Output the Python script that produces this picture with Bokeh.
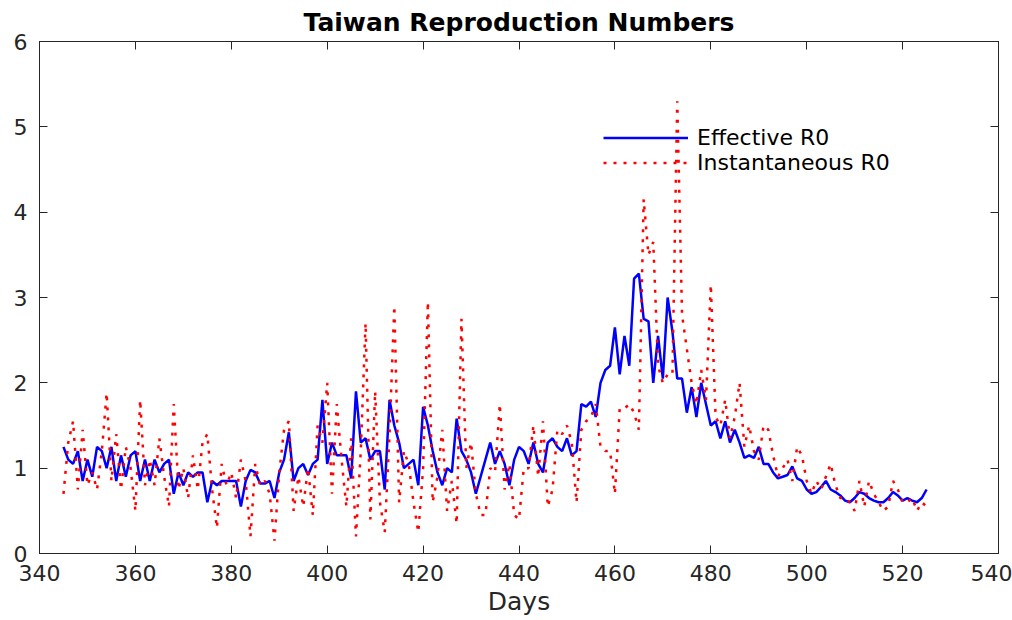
from bokeh.plotting import figure
from bokeh.models import LinearAxis, Range1d, Legend, LegendItem, FixedTicker, CustomJSTickFormatter
from bokeh.embed import file_html
from bokeh.resources import INLINE

days = list(range(345, 526))

effective_r0 = [
    1.25, 1.1, 1.05, 1.2, 0.85, 1.1, 0.9, 1.25, 1.2, 1.0,
    1.25, 0.85, 1.15, 0.9, 1.15, 1.2, 0.85, 1.1, 0.85, 1.1,
    0.95, 1.05, 1.1, 0.7, 0.95, 0.8, 0.95, 0.9, 0.95, 0.95,
    0.6, 0.85, 0.8, 0.85, 0.85, 0.85, 0.85, 0.55, 0.85, 0.98,
    0.95, 0.82, 0.82, 0.85, 0.65, 0.95, 1.1, 1.42, 0.85, 1.0,
    1.05, 0.92, 1.05, 1.1, 1.8, 1.05, 1.3, 1.15, 1.15, 1.15,
    0.88, 1.9, 1.3, 1.35, 1.1, 1.2, 1.2, 0.75, 1.8, 1.5,
    1.3, 1.0, 1.05, 1.1, 0.8, 1.72, 1.5, 1.2, 0.95, 0.8,
    1.0, 0.95, 1.58, 1.2, 1.1, 0.95, 0.7, 0.9, 1.1, 1.3,
    1.05, 1.2, 1.05, 0.8, 1.1, 1.25, 1.2, 1.05, 1.3, 1.05,
    0.95, 1.3, 1.35, 1.25, 1.2, 1.35, 1.15, 1.2, 1.75, 1.72,
    1.78, 1.6, 2.0, 2.15, 2.2, 2.65, 2.1, 2.55, 2.2, 3.22,
    3.28, 2.75, 2.72, 2.0, 2.55, 2.05, 3.0, 2.6, 2.05, 2.05,
    1.65, 1.95, 1.6, 2.0, 1.75, 1.5, 1.55, 1.35, 1.55, 1.3,
    1.45, 1.3, 1.12, 1.15, 1.12, 1.25, 1.05, 1.05, 0.95, 0.88,
    0.9, 0.92, 1.02, 0.88, 0.85, 0.75, 0.7, 0.72, 0.78, 0.85,
    0.75, 0.72, 0.68, 0.62, 0.6, 0.65, 0.72, 0.7, 0.65, 0.62,
    0.6, 0.6, 0.65, 0.72, 0.68, 0.62, 0.65, 0.62, 0.6, 0.65,
    0.75,
]

instantaneous_r0 = [
    0.7, 1.3, 1.55, 0.75, 1.45, 0.8, 0.95, 0.75, 1.2, 1.88,
    0.85, 1.4, 0.75, 1.25, 1.0, 0.5, 1.8, 0.8, 1.1, 0.8,
    1.35, 0.9, 0.55, 1.75, 0.75, 1.0, 0.65, 1.15, 0.75, 1.3,
    1.4, 0.75, 0.3, 1.05, 0.8, 0.95, 0.65, 1.1, 0.85, 0.2,
    1.05, 0.8, 0.85, 0.7, 0.15, 0.95, 1.45, 1.55, 0.5, 0.9,
    0.55, 1.0, 0.45, 1.5, 1.3, 2.0, 0.7, 1.75, 1.1, 0.55,
    1.35, 0.2, 1.2, 2.7, 0.4, 1.9, 0.6, 0.25, 1.4, 2.9,
    0.6, 1.2, 1.05, 0.6, 0.25, 1.0, 2.95, 0.6, 0.9, 1.45,
    0.5, 0.85, 0.35, 2.75, 1.0, 1.3, 0.7, 0.45, 0.45, 1.0,
    0.95, 1.75, 0.75, 1.05, 0.45, 0.4, 1.0, 1.0, 1.5, 0.9,
    1.55, 0.55, 0.75, 1.45, 1.4, 1.5, 1.3, 0.6, 1.45, 1.55,
    1.6, 1.75, 1.25, 1.2, 1.2, 0.7, 1.7, 1.7, 1.75, 1.65,
    1.45, 4.15, 3.5, 3.65, 2.2, 2.0, 2.1, 2.1, 5.3, 2.8,
    2.4, 2.0, 1.75, 2.15, 1.8, 3.15, 1.6, 1.5, 1.8, 1.35,
    1.6, 2.0, 1.25, 1.5, 1.2, 1.1, 1.5, 1.45, 1.15, 0.9,
    1.0, 1.1, 0.85, 1.25, 1.15, 0.85, 0.7, 0.85, 0.75, 0.9,
    1.05, 0.8, 0.65, 0.65, 0.6, 0.5, 0.85, 0.55, 0.85, 0.7,
    0.6, 0.5, 0.55, 0.85, 0.75, 0.6, 0.6, 0.65, 0.5, 0.6,
    0.55,
]

x_ticks = [340, 360, 380, 400, 420, 440, 460, 480, 500, 520, 540]
y_ticks = [0, 1, 2, 3, 4, 5, 6]

FONT = "DejaVu Sans"
AXC = "#262626"

p = figure(width=1012, height=620, output_backend="svg", toolbar_location=None,
           x_range=Range1d(340, 540), y_range=Range1d(0, 6),
           title="Taiwan Reproduction Numbers")
p.min_border_left = 39
p.min_border_right = 14
p.min_border_bottom = 67
p.min_border_top = 40
p.background_fill_color = "white"
p.border_fill_color = "white"
p.outline_line_color = AXC
p.grid.visible = False

p.title.align = "center"
p.title.text_font = FONT
p.title.text_font_size = "25px"
p.title.text_font_style = "bold"
p.title.text_color = "black"

def style_axis(ax, labels=True):
    ax.axis_line_color = AXC
    ax.major_tick_line_color = AXC
    ax.major_tick_in = 8
    ax.major_tick_out = 0
    ax.minor_tick_line_color = None
    ax.major_label_text_font = FONT
    ax.major_label_text_font_size = "22px"
    ax.major_label_text_color = AXC
    ax.major_label_standoff = 8
    if not labels:
        ax.formatter = CustomJSTickFormatter(code="return ''")
        ax.major_label_standoff = 0

p.xaxis.ticker = FixedTicker(ticks=x_ticks)
p.yaxis.ticker = FixedTicker(ticks=y_ticks)
style_axis(p.xaxis[0])
style_axis(p.yaxis[0])
p.xaxis.major_label_standoff = 11
p.yaxis.major_label_standoff = 12
p.xaxis.axis_label = "Days"
p.xaxis.axis_label_text_font = FONT
p.xaxis.axis_label_text_font_size = "25px"
p.xaxis.axis_label_text_font_style = "normal"
p.xaxis.axis_label_text_color = AXC
p.xaxis.axis_label_standoff = 3

top = LinearAxis(ticker=FixedTicker(ticks=x_ticks))
style_axis(top, labels=False)
p.add_layout(top, "above")
right = LinearAxis(ticker=FixedTicker(ticks=y_ticks))
style_axis(right, labels=False)
p.add_layout(right, "right")

r1 = p.line(days, effective_r0, line_color="#0000ff", line_width=2.5)
r2 = p.line(days, instantaneous_r0, line_color="#ff0000", line_width=2.5,
            line_dash="3 7")

legend = Legend(items=[LegendItem(label="Effective R0", renderers=[r1]),
                       LegendItem(label="Instantaneous R0", renderers=[r2])],
                location=(564, 378))
legend.background_fill_alpha = 0
legend.border_line_color = None
legend.label_text_font = FONT
legend.label_text_font_size = "22px"
legend.label_text_color = "black"
legend.glyph_width = 85
legend.label_standoff = 9
legend.spacing = 0
legend.label_height = 25
legend.glyph_height = 25
p.add_layout(legend, "center")

open("out.html", "w").write(file_html(p, INLINE))
